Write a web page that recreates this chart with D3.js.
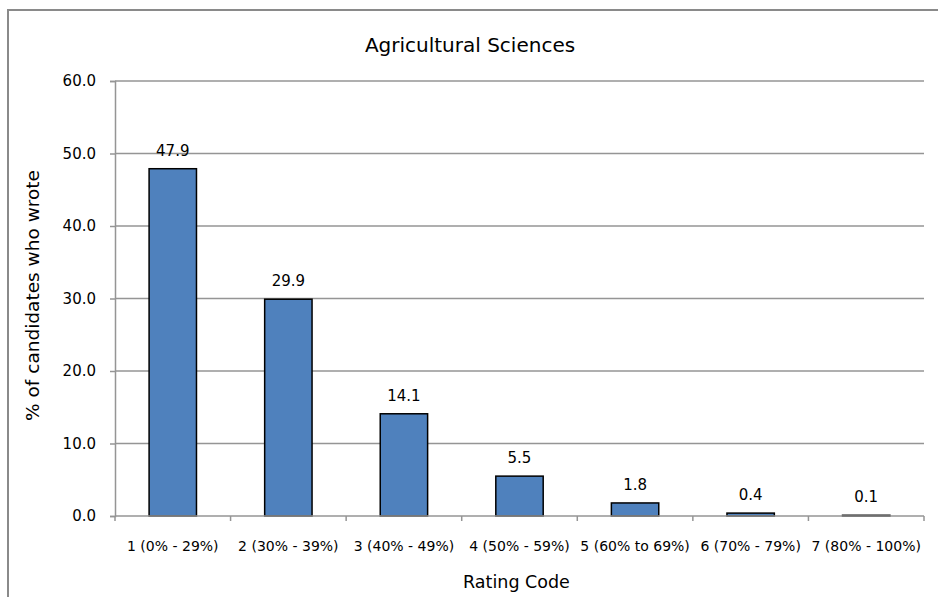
<!DOCTYPE html>
<html>
<head>
<meta charset="utf-8">
<script src="https://cdn.jsdelivr.net/npm/d3@7"></script>
<style>
  html, body { margin: 0; padding: 0; background: #fff; }
  svg { display: block; font-family: "DejaVu Sans", sans-serif; }
</style>
</head>
<body>
<svg id="chart" width="938" height="597"></svg>
<script>
// Rating codes and the share of candidates who wrote each
const categories = ["1 (0% - 29%)", "2 (30% - 39%)", "3 (40% - 49%)", "4 (50% - 59%)",
                    "5 (60% to 69%)", "6 (70% - 79%)", "7 (80% - 100%)"];
const values = [47.9, 29.9, 14.1, 5.5, 1.8, 0.4, 0.1];
const yTicks = [0, 10, 20, 30, 40, 50, 60];

const chartTitle = "Agricultural Sciences";
const xTitle = "Rating Code";
const yTitle = "% of candidates who wrote";

const svg = d3.select("#chart");
const plot = { left: 115, right: 924, top: 81, bottom: 516 };

// outer chart frame (runs past the right and bottom edges)
svg.append("rect")
  .attr("x", 8).attr("y", 10)
  .attr("width", 940).attr("height", 600)
  .attr("fill", "none").attr("stroke", "#8a8a8a").attr("stroke-width", 2);

const x = d3.scaleBand().domain(categories)
  .range([plot.left, plot.right]).paddingInner(0.59).paddingOuter(0.295);
const y = d3.scaleLinear().domain([0, 60]).range([plot.bottom, plot.top]);

// horizontal gridlines
svg.append("g").selectAll("line").data(yTicks.filter(d => d > 0)).join("line")
  .attr("x1", plot.left).attr("x2", plot.right)
  .attr("y1", d => y(d)).attr("y2", d => y(d))
  .attr("stroke", "#959595").attr("stroke-width", 1.5);

// y axis
const yAxis = svg.append("g").attr("transform", `translate(${plot.left},0)`)
  .call(d3.axisLeft(y).tickValues(yTicks).tickFormat(d3.format(".1f"))
    .tickSize(5).tickPadding(14));
yAxis.select(".domain").attr("stroke", "#959595").attr("stroke-width", 1.5);
yAxis.selectAll(".tick line").attr("stroke", "#959595").attr("stroke-width", 1.5);
yAxis.selectAll("text").attr("font-size", 15).attr("fill", "#000")
  .attr("font-family", "DejaVu Sans");

// bars
svg.append("g").selectAll("rect").data(values).join("rect")
  .attr("x", (d, i) => x(categories[i]))
  .attr("y", d => y(d))
  .attr("width", x.bandwidth())
  .attr("height", d => y(0) - y(d))
  .attr("fill", "#4f81bd").attr("stroke", "#000").attr("stroke-width", 1.5);

// x axis with ticks at category boundaries
const xAxisG = svg.append("g").attr("transform", `translate(0,${plot.bottom})`);
xAxisG.append("line").attr("x1", plot.left).attr("x2", plot.right)
  .attr("stroke", "#959595").attr("stroke-width", 1.5);
const boundaries = d3.range(categories.length + 1).map(i => plot.left + i * (plot.right - plot.left) / categories.length);
xAxisG.selectAll("line.tk").data(boundaries).join("line").attr("class", "tk")
  .attr("x1", d => d).attr("x2", d => d).attr("y1", 0).attr("y2", 5)
  .attr("stroke", "#959595").attr("stroke-width", 1.5);
xAxisG.selectAll("text").data(categories).join("text")
  .attr("x", d => x(d) + x.bandwidth() / 2).attr("y", 35)
  .attr("text-anchor", "middle").attr("font-size", 14).attr("fill", "#000")
  .text(d => d);

// value labels
svg.append("g").selectAll("text").data(values).join("text")
  .attr("x", (d, i) => x(categories[i]) + x.bandwidth() / 2)
  .attr("y", d => y(d) - 13)
  .attr("text-anchor", "middle").attr("font-size", 15).attr("fill", "#000")
  .text(d => d3.format(".1f")(d));

// titles
svg.append("text").attr("x", 470).attr("y", 52).attr("text-anchor", "middle")
  .attr("font-size", 20).attr("fill", "#000").text(chartTitle);
svg.append("text").attr("x", (plot.left + plot.right) / 2 - 3).attr("y", 588)
  .attr("text-anchor", "middle").attr("font-size", 17.5).attr("fill", "#000").text(xTitle);
svg.append("text").attr("transform", `translate(39,295.5) rotate(-90)`)
  .attr("text-anchor", "middle").attr("font-size", 18.5).attr("fill", "#000").text(yTitle);
</script>
</body>
</html>
